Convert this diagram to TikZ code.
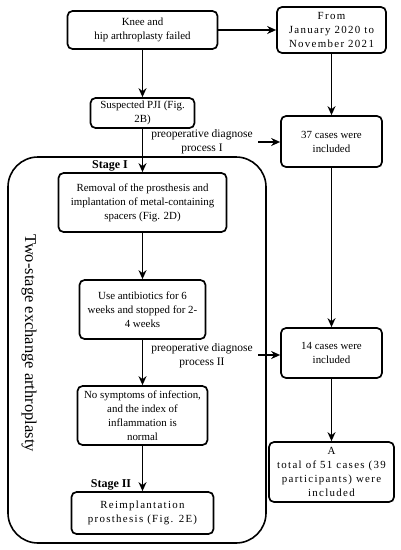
\documentclass[tikz,border=0pt]{standalone}
\usepackage{fontspec}
\setmainfont{Liberation Serif}
\usetikzlibrary{arrows.meta}
\begin{document}
\begin{tikzpicture}[x=1pt,y=-1pt,
  box/.style={draw,line width=1.7pt,rounded corners=5pt,align=center,inner sep=1pt,
    font=\fontsize{10.9}{14}\selectfont},
  sp/.style={font=\fontsize{10.9}{14}\selectfont\addfontfeature{LetterSpace=12}},
  arr/.style={line width=1.7pt,-{Stealth[length=9pt,width=8pt]}},
  lbl/.style={align=center,inner sep=0pt,font=\fontsize{11.5}{14}\selectfont}]
\useasboundingbox (0,0) rectangle (401,550);
\draw[line width=1.6pt,rounded corners=30pt] (8,157) rectangle (266,543);
\node[box,minimum width=150pt,minimum height=38pt] (b1) at (142.5,30) {Knee and\\hip arthroplasty failed};
\node[box,sp,minimum width=109pt,minimum height=46pt] (b2) at (331.5,30) {From\\January 2020 to\\November 2021};
\node[box,minimum width=104pt,minimum height=30pt] (b3) at (142.5,113) {Suspected PJI (Fig.\\2B)};
\node[box,minimum width=101pt,minimum height=51pt] (b4) at (331.5,141.5) {37 cases were\\included};
\node[box,minimum width=168pt,minimum height=59pt] (b5) at (142.5,202.5) {Removal of the prosthesis and\\implantation of metal-containing\\spacers (Fig. 2D)};
\node[box,minimum width=126pt,minimum height=59pt] (b6) at (142.5,309.5) {Use antibiotics for 6\\weeks and stopped for 2-\\4 weeks};
\node[box,minimum width=101pt,minimum height=50pt] (b7) at (331.5,353) {14 cases were\\included};
\node[box,minimum width=130pt,minimum height=59pt] (b8) at (142.5,415.5) {No symptoms of infection,\\and the index of\\inflammation is\\normal};
\node[box,sp,minimum width=142pt,minimum height=42pt] (b9) at (142.5,513) {Reimplantation\\prosthesis (Fig. 2E)};
\node[box,sp,minimum width=125pt,minimum height=60pt] (b10) at (331.5,472) {A\\total of 51 cases (39\\participants) were\\included};
\node[lbl] (l1) at (202,142) {preoperative diagnose\\process I};
\node[lbl] (l2) at (202,356) {preoperative diagnose\\process II};
\node[font=\bfseries\fontsize{12}{14}\selectfont,inner sep=0pt] (s1) at (110,166) {Stage I};
\node[font=\bfseries\fontsize{12}{14}\selectfont,inner sep=0pt] (s2) at (111,485) {Stage II};
\node[rotate=-90,font=\fontsize{16.5}{18}\selectfont,inner sep=0pt] (tw) at (29,343) {Two-stage exchange arthroplasty};
\coordinate (p1) at (258,142);
\coordinate (p2) at (258,355);
\draw[arr] (b1) -- (b2);
\draw[arr] (b1) -- (b3);
\draw[arr] (b3) -- (b5);
\draw[arr] (b5) -- (b6);
\draw[arr] (b6) -- (b8);
\draw[arr] (b8) -- (b9);
\draw[arr] (b2) -- (b4);
\draw[arr] (b4) -- (b7);
\draw[arr] (b7) -- (b10);
\draw[arr] (p1) -- (b4.west |- p1);
\draw[arr] (p2) -- (b7.west |- p2);
\end{tikzpicture}
\end{document}
